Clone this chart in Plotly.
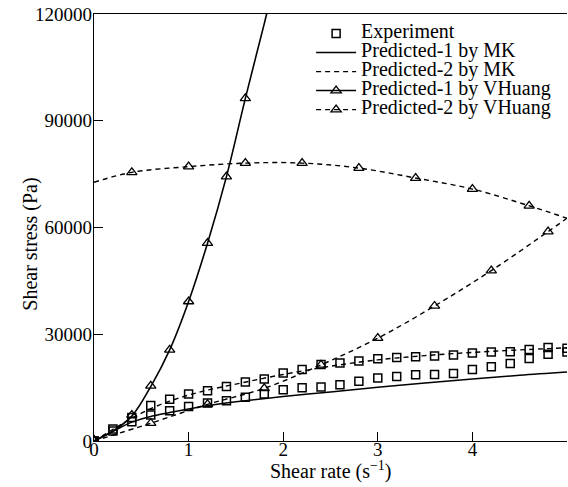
import plotly.graph_objects as go

# ---------------- data ----------------
exp_x = [0, 0.2, 0.4, 0.6, 0.8, 1.0, 1.2, 1.4, 1.6, 1.8, 2.0, 2.2, 2.4, 2.6, 2.8,
         3.0, 3.2, 3.4, 3.6, 3.8, 4.0, 4.2, 4.4, 4.6, 4.8, 5.0]
exp_upper = [0, 3400, 6600, 10000, 11700, 13200, 14100, 15300, 16600, 17400, 19100,
             20100, 21500, 21900, 22500, 23100, 23500, 23700, 23900, 24200, 24700,
             25000, 25100, 25700, 26300, 26100]
exp_lower = [0, 2800, 5400, 7300, 8500, 9700, 10700, 11300, 12300, 13200, 14400,
             15000, 15200, 15800, 16800, 17700, 18100, 18600, 18700, 19000, 20100,
             20900, 21800, 23200, 24400, 25000]

mk_x = [0, 0.2, 0.4, 0.6, 0.8, 1.0, 1.2, 1.5, 2.0, 2.5, 3.0, 3.5, 4.0, 4.5, 5.0]
mk1_y = [0, 2700, 5300, 6900, 8000, 9000, 9900, 11000, 12500, 13800, 15100, 16300,
         17400, 18500, 19400]
mk2_y = [0, 3300, 6400, 9100, 11200, 12900, 14300, 16000, 18700, 21000, 22800,
         24000, 24900, 25600, 26200]

vh1_x = [0, 0.2, 0.4, 0.6, 0.8, 1.0, 1.2, 1.4, 1.6, 1.8, 1.9]
vh1_y = [0, 2800, 7000, 15300, 25600, 39200, 55600, 74300, 96300, 117300, 128500]
vh1_mx = [0, 0.4, 0.6, 0.8, 1.0, 1.2, 1.4, 1.6]
vh1_my = [300, 7300, 15500, 25600, 39200, 55600, 74300, 96300]

vh2_up_x = [0, 0.4, 1.0, 1.6, 2.2, 2.8, 3.4, 4.0, 4.6, 5.0]
vh2_up_y = [72700, 75500, 77100, 78100, 78100, 76700, 73900, 70800, 66100, 62600]
vh2_lo_x = [0, 0.6, 1.2, 1.8, 2.4, 3.0, 3.6, 4.2, 4.8, 5.0]
vh2_lo_y = [0, 5000, 10300, 14800, 21400, 28900, 37950, 47900, 58850, 62600]

legend_names = ["Experiment", "Predicted-1 by MK", "Predicted-2 by MK",
                "Predicted-1 by VHuang", "Predicted-2 by VHuang"]

x_ticks = [0, 1, 2, 3, 4, 5]
y_ticks = [0, 30000, 60000, 90000, 120000]

x_title = "Shear rate (s<sup>\u22121</sup>)"
y_title = "Shear stress (Pa)"

# ---------------- figure ----------------
FONT = "Liberation Serif"
BLACK = "black"
DASH = "5px,4px"
TRI = dict(symbol="triangle-up-open", size=9, color=BLACK, line=dict(width=1.3, color=BLACK))


def nm(s):
    return '<span style="font-size:20px">' + s + "</span>"


fig = go.Figure()

# experiment
fig.add_trace(go.Scatter(
    x=exp_x + [None] + exp_x, y=exp_upper + [None] + exp_lower,
    mode="markers", name=nm(legend_names[0]),
    marker=dict(symbol="square-open", size=8, color=BLACK, line=dict(width=1.5, color=BLACK)),
))

# MK predictions
fig.add_trace(go.Scatter(
    x=mk_x, y=mk1_y, mode="lines", name=nm(legend_names[1]),
    line=dict(color=BLACK, width=1.5, shape="spline"),
))
fig.add_trace(go.Scatter(
    x=mk_x, y=mk2_y, mode="lines", name=nm(legend_names[2]),
    line=dict(color=BLACK, width=1.4, dash=DASH, shape="spline"),
))

# VHuang predicted-1
fig.add_trace(go.Scatter(
    x=vh1_x, y=vh1_y, mode="lines", showlegend=False,
    line=dict(color=BLACK, width=1.6, shape="spline"),
))
fig.add_trace(go.Scatter(
    x=vh1_mx, y=vh1_my, mode="markers", showlegend=False, marker=TRI,
))
fig.add_trace(go.Scatter(
    x=[None], y=[None], mode="lines+markers", name=nm(legend_names[3]),
    line=dict(color=BLACK, width=1.5), marker=TRI,
))

# VHuang predicted-2
fig.add_trace(go.Scatter(
    x=vh2_up_x + [None] + vh2_lo_x, y=vh2_up_y + [None] + vh2_lo_y,
    mode="lines", showlegend=False, connectgaps=False,
    line=dict(color=BLACK, width=1.4, dash=DASH, shape="spline"),
))
fig.add_trace(go.Scatter(
    x=vh2_up_x[1:-1] + vh2_lo_x[:-1], y=vh2_up_y[1:-1] + vh2_lo_y[:-1],
    mode="markers", showlegend=False, marker=TRI,
))
fig.add_trace(go.Scatter(
    x=[None], y=[None], mode="lines+markers", name=nm(legend_names[4]),
    line=dict(color=BLACK, width=1.4, dash=DASH), marker=TRI,
))

axis_common = dict(
    showline=True, linecolor=BLACK, linewidth=1.3, ticks="inside", ticklen=9,
    tickwidth=1.2, tickcolor=BLACK, showgrid=False, zeroline=False, automargin=False,
    tickfont=dict(family=FONT, size=19, color=BLACK),
)

fig.update_layout(
    width=568, height=487,
    margin=dict(l=94, r=1, t=14, b=46),
    paper_bgcolor="white", plot_bgcolor="white",
    font=dict(family=FONT, color=BLACK),
    showlegend=True,
    legend=dict(x=0.459, y=0.988, xanchor="left", yanchor="top",
                bgcolor="rgba(0,0,0,0)", borderwidth=0,
                font=dict(family=FONT, size=12, color=BLACK),
                tracegroupgap=0, itemwidth=40),
    xaxis=dict(range=[0, 5], tickvals=x_ticks, ticktext=[str(v) for v in x_ticks],
               mirror=True, ticklabelstandoff=-9, **axis_common),
    yaxis=dict(range=[0, 120000], tickvals=y_ticks, ticktext=[str(v) for v in y_ticks],
               ticklabelstandoff=-3, **axis_common),
    annotations=[
        dict(text=x_title, xref="paper", yref="paper", x=0.5, y=-0.068,
             xanchor="center", yanchor="middle", showarrow=False,
             font=dict(family=FONT, size=20, color=BLACK)),
        dict(text=y_title, xref="paper", yref="paper", x=-0.135, y=0.46,
             xanchor="center", yanchor="middle", showarrow=False, textangle=-90,
             font=dict(family=FONT, size=20, color=BLACK)),
    ],
)

fig.write_html("out.html", config={"displayModeBar": False},
               post_script="document.body.style.margin='0';")
